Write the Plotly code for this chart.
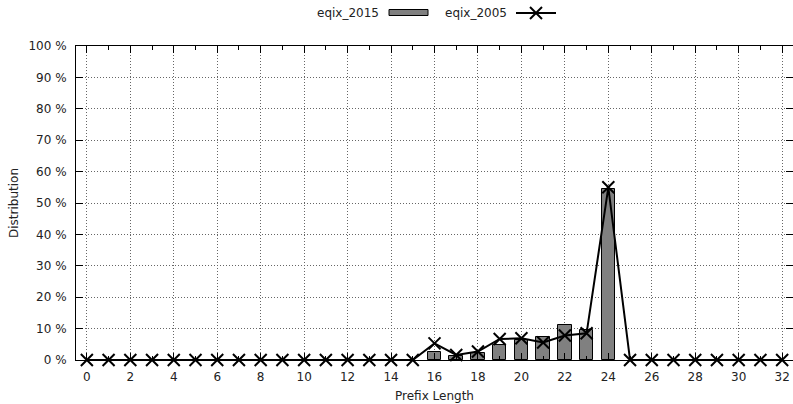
import plotly.graph_objects as go

# Data
prefix_lengths = list(range(0, 33))
bar_x = [16, 17, 18, 19, 20, 21, 22, 23, 24]
eqix_2015 = [2.5, 1.4, 2.2, 4.8, 6.3, 7.3, 11.1, 9.7, 54.4]
eqix_2005 = [0] * 16 + [5.3, 1.6, 2.7, 6.7, 6.9, 5.6, 7.8, 8.5, 55.0] + [0] * 8
x_tick_vals = list(range(0, 33, 2))
y_tick_vals = list(range(0, 101, 10))
y_tick_text = [f"{v} %" for v in y_tick_vals]

FONT = "DejaVu Sans"
W, H = 793, 404
ML, MR, MT, MB = 76, 0, 46, 44
PW, PH = W - ML - MR, H - MT - MB


def px(x):
    return (x - ML) / PW


def py(y):
    return (H - MB - y) / PH


fig = go.Figure()
fig.add_trace(go.Bar(
    x=bar_x, y=eqix_2015, name="eqix_2015", width=0.62,
    marker=dict(color="#808080", line=dict(color="black", width=1)),
    showlegend=False,
))
fig.add_trace(go.Scatter(
    x=prefix_lengths, y=eqix_2005, name="eqix_2005", mode="lines+markers",
    line=dict(color="black", width=2),
    marker=dict(symbol="x-thin", size=12, color="black",
                line=dict(color="black", width=2)),
    cliponaxis=False, showlegend=False,
))

axis_common = dict(
    showline=True, linecolor="black", linewidth=1, mirror="ticks",
    ticks="inside", tickcolor="black", ticklen=7, tickwidth=1,
    showgrid=True, gridcolor="#666666", griddash="1px,2px", gridwidth=1,
    zeroline=False, tickfont=dict(family=FONT, size=12, color="#222"),
)

fig.update_xaxes(
    range=[-0.5, 32.5], tickvals=x_tick_vals, ticklabelstandoff=6,
    minor=dict(dtick=1, tick0=0, ticks="inside", ticklen=4, tickcolor="black",
               showgrid=False),
    title=dict(text="Prefix Length", font=dict(family=FONT, size=12, color="#222"),
               standoff=8),
    **axis_common,
)
fig.update_yaxes(
    range=[0, 100], tickvals=y_tick_vals, ticktext=y_tick_text, ticklabelstandoff=6,
    title=dict(text="Distribution", font=dict(family=FONT, size=12, color="#222"),
               standoff=7),
    **axis_common,
)

# gnuplot-style legend: text then sample
ly = 13
shapes = [
    dict(type="rect", xref="paper", yref="paper", x0=px(389), x1=px(428),
         y0=py(15.5), y1=py(9.5), fillcolor="#808080", line=dict(color="black", width=1)),
    dict(type="line", xref="paper", yref="paper", x0=px(516), x1=px(556),
         y0=py(ly), y1=py(ly), line=dict(color="black", width=2)),
    dict(type="line", xref="paper", yref="paper", x0=px(530), x1=px(542),
         y0=py(ly - 6), y1=py(ly + 6), line=dict(color="black", width=2)),
    dict(type="line", xref="paper", yref="paper", x0=px(530), x1=px(542),
         y0=py(ly + 6), y1=py(ly - 6), line=dict(color="black", width=2)),
]
annotations = [
    dict(text="eqix_2015", xref="paper", yref="paper", x=px(381), y=py(ly),
         xanchor="right", yanchor="middle", showarrow=False,
         font=dict(family=FONT, size=12, color="#222")),
    dict(text="eqix_2005", xref="paper", yref="paper", x=px(509), y=py(ly),
         xanchor="right", yanchor="middle", showarrow=False,
         font=dict(family=FONT, size=12, color="#222")),
]

fig.update_layout(
    width=W, height=H, margin=dict(l=ML, r=MR, t=MT, b=MB, autoexpand=False),
    paper_bgcolor="white", plot_bgcolor="white",
    shapes=shapes, annotations=annotations, bargap=0,
    font=dict(family=FONT, size=12, color="#222"),
)

fig.write_html("out.html")
